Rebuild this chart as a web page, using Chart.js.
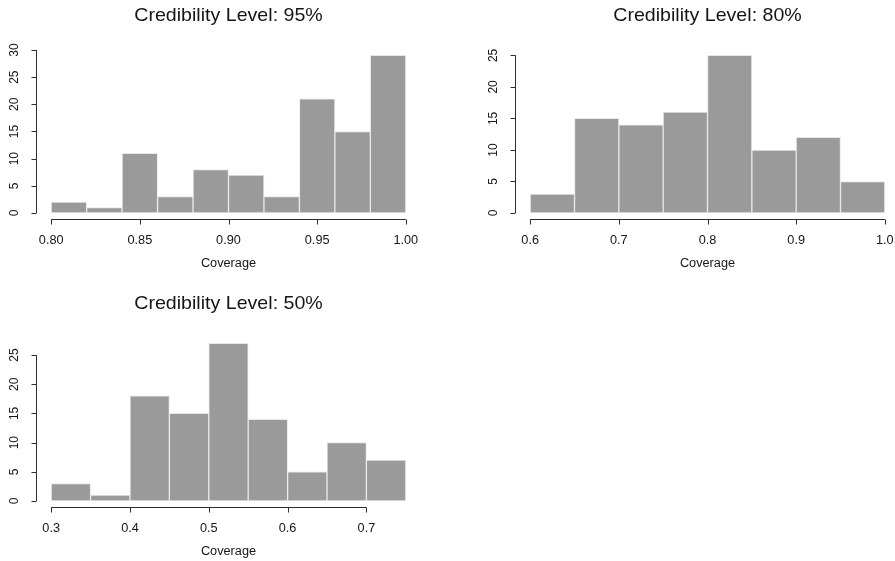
<!DOCTYPE html>
<html>
<head>
<meta charset="utf-8">
<script src="https://cdn.jsdelivr.net/npm/chart.js@4.4.0/dist/chart.umd.min.js"></script>
<style>
  html, body { margin: 0; padding: 0; background: #ffffff; overflow: hidden; width: 895px; height: 561px; }
  canvas { position: absolute; }
</style>
</head>
<body>
<canvas id="c95" width="447" height="280" style="left:0px;top:0px"></canvas>
<canvas id="c80" width="447" height="280" style="left:479px;top:0px"></canvas>
<canvas id="c50" width="447" height="280" style="left:0px;top:288px"></canvas>
<script>
// Histogram bins (edges) and counts for each credibility level
const binEdges95 = [0.80, 0.82, 0.84, 0.86, 0.88, 0.90, 0.92, 0.94, 0.96, 0.98, 1.00];
const counts95   = [2, 1, 11, 3, 8, 7, 3, 21, 15, 29];
const xTicks95   = [0.80, 0.85, 0.90, 0.95, 1.00];
const yTicks95   = [0, 5, 10, 15, 20, 25, 30];

const binEdges80 = [0.60, 0.65, 0.70, 0.75, 0.80, 0.85, 0.90, 0.95, 1.00];
const counts80   = [3, 15, 14, 16, 25, 10, 12, 5];
const xTicks80   = [0.6, 0.7, 0.8, 0.9, 1.0];
const yTicks80   = [0, 5, 10, 15, 20, 25];

const binEdges50 = [0.30, 0.35, 0.40, 0.45, 0.50, 0.55, 0.60, 0.65, 0.70, 0.75];
const counts50   = [3, 1, 18, 15, 27, 14, 5, 10, 7];
const xTicks50   = [0.3, 0.4, 0.5, 0.6, 0.7];
const yTicks50   = [0, 5, 10, 15, 20, 25];

const FONT = '"Liberation Sans", Arial, Helvetica, sans-serif';
const TEXT_STRETCH = 1.06;   // text is slightly wide in this layout
const AXIS_COLOR = '#2e2e2e';
const TEXT_COLOR = '#151515';

function stretchedText(ctx, txt, x, y, size, align, baseline, rotate) {
  ctx.save();
  ctx.translate(x, y);
  ctx.scale(TEXT_STRETCH, 1);
  if (rotate) ctx.rotate(-Math.PI / 2);
  ctx.font = size + 'px ' + FONT;
  ctx.textAlign = align;
  ctx.textBaseline = baseline;
  ctx.fillText(txt, 0, 0);
  ctx.restore();
}

// Base-graphics style axes: lines spanning only the tick range, outward ticks,
// rotated y labels, a main title and an x-axis label.
const baseAxes = {
  id: 'baseAxes',
  afterDraw(chart, args, opts) {
    const { ctx, chartArea: a, scales } = chart;
    const xs = scales.x, ys = scales.y;
    const tickLen = 5;
    ctx.save();
    ctx.strokeStyle = AXIS_COLOR;
    ctx.fillStyle = TEXT_COLOR;
    ctx.lineWidth = 1;

    // x axis
    const yLine = Math.round(a.bottom) + 0.5;
    const xt = opts.xTicks;
    ctx.beginPath();
    ctx.moveTo(xs.getPixelForValue(xt[0]), yLine);
    ctx.lineTo(xs.getPixelForValue(xt[xt.length - 1]), yLine);
    xt.forEach(v => {
      const px = Math.round(xs.getPixelForValue(v)) + 0.5;
      ctx.moveTo(px, yLine);
      ctx.lineTo(px, yLine + tickLen);
    });
    ctx.stroke();
    xt.forEach(v => {
      stretchedText(ctx, v.toFixed(opts.decimals), xs.getPixelForValue(v), yLine + 24.5, 12, 'center', 'alphabetic', false);
    });

    // y axis
    const xLine = Math.round(a.left) - 0.5;
    const yt = opts.yTicks;
    ctx.beginPath();
    ctx.moveTo(xLine, ys.getPixelForValue(yt[0]));
    ctx.lineTo(xLine, ys.getPixelForValue(yt[yt.length - 1]));
    yt.forEach(v => {
      const py = Math.round(ys.getPixelForValue(v)) + 0.5;
      ctx.moveTo(xLine, py);
      ctx.lineTo(xLine - tickLen, py);
    });
    ctx.stroke();
    yt.forEach(v => {
      stretchedText(ctx, String(v), 18, ys.getPixelForValue(v), 12, 'center', 'alphabetic', true);
    });

    // title and axis label
    const cx = (a.left + a.right) / 2;
    stretchedText(ctx, opts.title, cx, 21, 18.5, 'center', 'alphabetic', false);
    stretchedText(ctx, opts.xLabel, cx, 267, 12, 'center', 'alphabetic', false);
    ctx.restore();
  }
};

function histogram(canvasId, edges, counts, xTicks, yTicks, decimals, title) {
  const span = edges[edges.length - 1] - edges[0];
  const yMax = Math.max(...counts);
  const points = counts.map((c, i) => ({ x: (edges[i] + edges[i + 1]) / 2, y: c }));
  return new Chart(document.getElementById(canvasId), {
    type: 'bar',
    data: {
      datasets: [{
        data: points,
        backgroundColor: '#9a9a9a',
        borderColor: '#e8e8e8',
        borderWidth: 1,
        borderSkipped: false,
        barPercentage: 1,
        categoryPercentage: 1
      }]
    },
    options: {
      responsive: false,
      animation: false,
      devicePixelRatio: 1,
      layout: { padding: { left: 37, top: 49.1, right: 27, bottom: 60.7 } },
      plugins: {
        legend: { display: false },
        tooltip: { enabled: false },
        baseAxes: { xTicks, yTicks, decimals, title, xLabel: 'Coverage' }
      },
      scales: {
        x: {
          type: 'linear',
          offset: false,
          min: edges[0] - 0.04 * span,
          max: edges[edges.length - 1] + 0.04 * span,
          afterBuildTicks: s => { s.ticks = xTicks.map(v => ({ value: v })); },
          afterFit: s => { s.height = 0; },
          ticks: { display: false },
          grid: { display: false },
          border: { display: false }
        },
        y: {
          type: 'linear',
          min: -0.04 * yMax,
          max: yMax * 1.04,
          afterBuildTicks: s => { s.ticks = yTicks.map(v => ({ value: v })); },
          afterFit: s => { s.width = 0; },
          ticks: { display: false },
          grid: { display: false },
          border: { display: false }
        }
      }
    },
    plugins: [baseAxes]
  });
}

histogram('c95', binEdges95, counts95, xTicks95, yTicks95, 2, 'Credibility Level: 95%');
histogram('c80', binEdges80, counts80, xTicks80, yTicks80, 1, 'Credibility Level: 80%');
histogram('c50', binEdges50, counts50, xTicks50, yTicks50, 1, 'Credibility Level: 50%');
</script>
</body>
</html>
